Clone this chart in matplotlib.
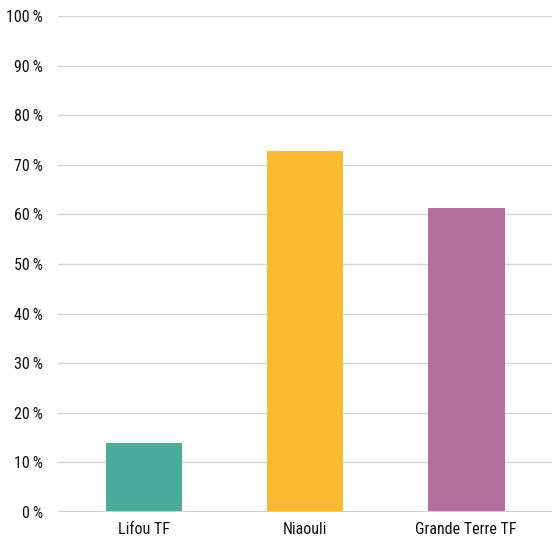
import matplotlib.pyplot as plt
from matplotlib import font_manager

# 字体: 优先使用窄体
names = set(f.name for f in font_manager.fontManager.ttflist)
fam = [n for n in ['Roboto Condensed', 'DejaVu Sans Condensed', 'Liberation Sans Narrow', 'Roboto'] if n in names]
plt.rcParams['font.family'] = fam + ['DejaVu Sans']

# 数据
categories = ['Lifou TF', 'Niaouli', 'Grande Terre TF']
values = [13.9, 72.7, 61.2]
colors = ['#4aab9c', '#f9b931', '#b3709f']
yticks = list(range(0, 101, 10))
ytick_labels = [str(t) + '\u2009%' for t in yticks]

fig = plt.figure(figsize=(5.52, 5.44), dpi=100)
ax = fig.add_axes([58/552, 1-512/544, 1-58/552, (512-16)/544])

x = list(range(len(categories)))
ax.bar(x, values, width=0.478, color=colors, zorder=3)

ax.set_ylim(0, 100)
ax.set_xlim(-0.534, 2.534)
ax.set_yticks(yticks)
ax.set_yticklabels(ytick_labels, fontsize=11.5, color='#111111')
ax.set_xticks(x)
ax.set_xticklabels(categories, fontsize=11.5, color='#111111')
ax.tick_params(axis='y', length=0, pad=11)
ax.tick_params(axis='x', length=0, pad=7)

# 网格线
ax.grid(axis='y', color='#d3d3d3', linewidth=1, zorder=0)
ax.axhline(0, color='#cccccc', linewidth=1.5, zorder=4)
for s in ax.spines.values():
    s.set_visible(False)

fig.savefig('out.png', dpi=100)
